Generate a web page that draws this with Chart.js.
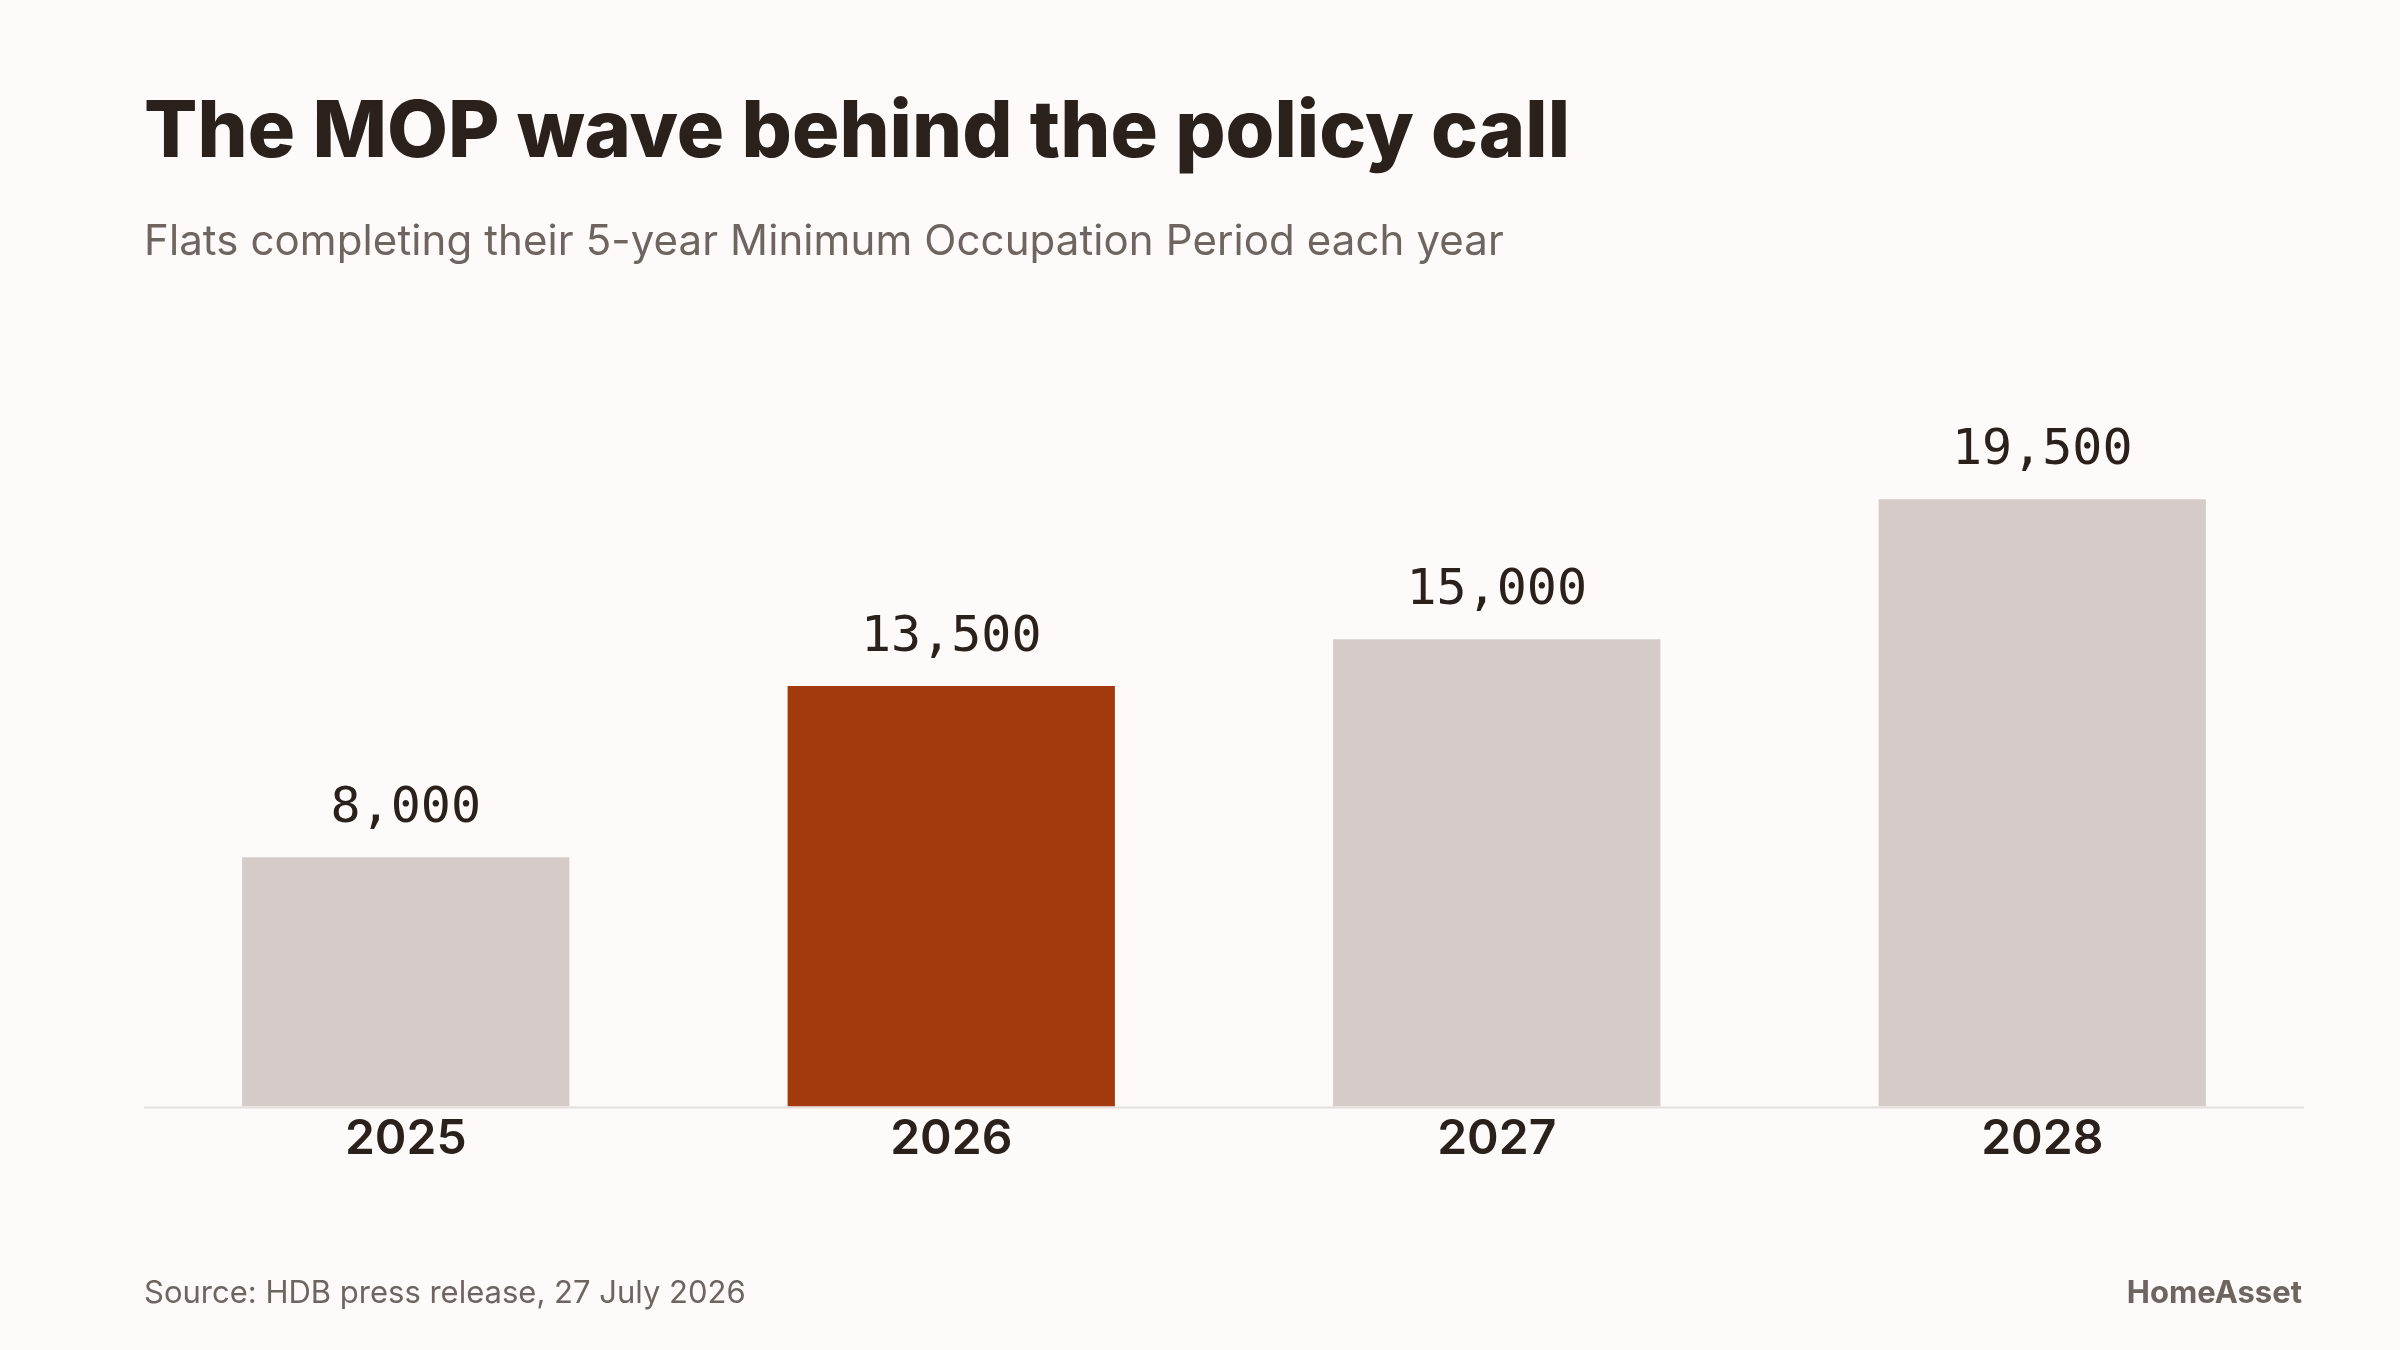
<!DOCTYPE html>
<html>
<head>
<meta charset="utf-8">
<script src="https://cdn.jsdelivr.net/npm/chart.js@4.4.1/dist/chart.umd.min.js"></script>
<style>
  html, body { margin: 0; padding: 0; background: #fefaf9; }
  #page { position: relative; width: 2400px; height: 1350px; overflow: hidden; background: #fefaf9; }
  #chartCanvas { position: absolute; left: 0; top: 0; }
  .txt { position: absolute; white-space: nowrap; line-height: 1; font-family: Inter, "Noto Sans", sans-serif; }
  #title { left: 144px; top: 89px; font-size: 79px; font-weight: 800; color: #2a201c; }
  #subtitle { left: 144px; top: 219px; font-size: 42px; font-weight: 400; color: #6e6560; letter-spacing: 0.1px; }
  #source { left: 144px; top: 1276px; font-size: 31px; color: #6e6560; }
  #brand { right: 98px; top: 1276px; font-size: 31px; font-weight: 700; color: #6e6560; }
</style>
</head>
<body>
<div id="page">
  <canvas id="chartCanvas" width="2400" height="1350"></canvas>
  <div class="txt" id="title">The MOP wave behind the policy call</div>
  <div class="txt" id="subtitle">Flats completing their 5-year Minimum Occupation Period each year</div>
  <div class="txt" id="source">Source: HDB press release, 27 July 2026</div>
  <div class="txt" id="brand">HomeAsset</div>
</div>
<script>
const years = ["2025", "2026", "2027", "2028"];
const flatsReachingMop = [8000, 13500, 15000, 19500];
const highlightYear = "2026";

const barColors = years.map((y) => (y === highlightYear ? "#a33a0e" : "#d5ccca"));

/** Value labels above bars + the baseline rule */
const barExtras = {
    id: "barExtras",
    beforeDatasetsDraw(chart) {
        const { ctx, chartArea, scales } = chart;
        const y0 = scales.y.getPixelForValue(0);
        ctx.save();
        ctx.strokeStyle = "#e4dedc";
        ctx.lineWidth = 2;
        ctx.beginPath();
        ctx.moveTo(chartArea.left + 11, y0 + 1);
        ctx.lineTo(chartArea.right - 11, y0 + 1);
        ctx.stroke();
        ctx.restore();
    },
    afterDatasetsDraw(chart) {
        const { ctx } = chart;
        const meta = chart.getDatasetMeta(0);
        ctx.save();
        ctx.font = "50px 'DejaVu Sans Mono', monospace";
        ctx.fillStyle = "#2a201c";
        ctx.textAlign = "center";
        ctx.textBaseline = "alphabetic";
        meta.data.forEach((bar, i) => {
            const label = flatsReachingMop[i].toLocaleString("en-US");
            ctx.fillText(label, bar.x, bar.y - 35);
        });
        ctx.restore();
    },
};

new Chart(document.getElementById("chartCanvas").getContext("2d"), {
    type: "bar",
    data: {
        labels: years,
        datasets: [
            {
                label: "Flats reaching MOP",
                data: flatsReachingMop,
                backgroundColor: barColors,
                borderWidth: 0,
                categoryPercentage: 0.6,
                barPercentage: 1.0,
            },
        ],
    },
    options: {
        responsive: false,
        animation: false,
        devicePixelRatio: 1,
        layout: { padding: { left: 133, right: 85, top: 359, bottom: 178 } },
        plugins: {
            legend: { display: false },
            tooltip: { enabled: false },
        },
        scales: {
            x: {
                grid: { display: false, drawTicks: false },
                border: { display: false },
                ticks: {
                    color: "#2a201c",
                    padding: 4,
                    font: { family: "Inter", size: 48, weight: 600 },
                },
            },
            y: {
                display: false,
                min: 0,
                max: 24000,
            },
        },
    },
    plugins: [barExtras],
});
</script>
</body>
</html>
